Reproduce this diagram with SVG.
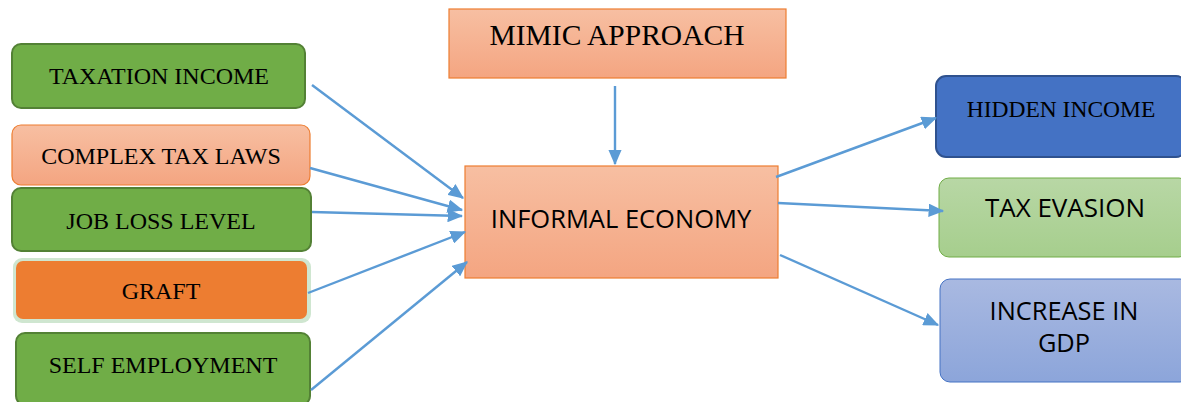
<svg xmlns="http://www.w3.org/2000/svg" width="1181" height="402" viewBox="0 0 1181 402">
<style>
.serif{font-family:"Liberation Serif","Times New Roman",serif;fill:#000;text-anchor:middle}
.sans{font-family:"Open Sans","Noto Sans","Liberation Sans",sans-serif;fill:#000;text-anchor:middle}
.green{fill:#70AD47;stroke:#538135;stroke-width:2}
.salmon{fill:url(#gSalmon);stroke:#ED7D31;stroke-width:1.2}
.conn{stroke:#5B9BD5;stroke-width:2.4;fill:none;marker-end:url(#arr)}
</style>
<defs>
<linearGradient id="gSalmon" x1="0" y1="0" x2="0" y2="1"><stop offset="0" stop-color="#F7BFA2"/><stop offset="1" stop-color="#F4A581"/></linearGradient>
<linearGradient id="gGreen" x1="0" y1="0" x2="0" y2="1"><stop offset="0" stop-color="#B8D7A5"/><stop offset="1" stop-color="#A6CE8D"/></linearGradient>
<linearGradient id="gBlue" x1="0" y1="0" x2="0" y2="1"><stop offset="0" stop-color="#A9B9E1"/><stop offset="1" stop-color="#8CA5DA"/></linearGradient>
<marker id="arr" markerWidth="6.5" markerHeight="5.6" refX="6" refY="2.8" orient="auto" markerUnits="strokeWidth"><path d="M0,0 L6.5,2.8 L0,5.6 Z" fill="#5B9BD5"/></marker>
</defs>
<g id="taxation-income"><rect class="green" x="12" y="44" width="293" height="64" rx="9"/><text class="serif" x="159" y="84" font-size="24">TAXATION INCOME</text></g>
<g id="complex-tax-laws"><rect class="salmon" x="12" y="125" width="298" height="60" rx="9"/><text class="serif" x="161" y="164" font-size="24">COMPLEX TAX LAWS</text></g>
<g id="job-loss-level"><rect class="green" x="12" y="188" width="299" height="63" rx="9"/><text class="serif" x="161" y="229" font-size="24">JOB LOSS LEVEL</text></g>
<g id="graft"><rect x="13" y="258" width="298" height="65" rx="9" fill="#CFE6D0"/><rect x="16" y="261" width="291" height="58" rx="7" fill="#ED7D31"/><text class="serif" x="161" y="299" font-size="24">GRAFT</text></g>
<g id="self-employment"><rect class="green" x="16" y="333" width="294" height="72" rx="9"/><text class="serif" x="163" y="373" font-size="24">SELF EMPLOYMENT</text></g>
<g id="mimic-approach"><rect class="salmon" x="449" y="9" width="337" height="69"/><text class="serif" x="617" y="45" font-size="29.5">MIMIC APPROACH</text></g>
<g id="informal-economy"><rect class="salmon" x="465" y="166" width="313" height="112"/><text class="sans" x="621" y="228" font-size="25.5">INFORMAL ECONOMY</text></g>
<g id="hidden-income"><rect x="936" y="76" width="250" height="81" rx="10" fill="#4472C4" stroke="#2F528F" stroke-width="2"/><text class="serif" x="1061" y="117" font-size="23.5">HIDDEN INCOME</text></g>
<g id="tax-evasion"><rect x="939" y="178" width="250" height="79" rx="10" fill="url(#gGreen)" stroke="#70AD47" stroke-width="1"/><text class="sans" x="1065" y="217" font-size="26">TAX EVASION</text></g>
<g id="increase-in-gdp"><rect x="940" y="279" width="250" height="103" rx="10" fill="url(#gBlue)" stroke="#4472C4" stroke-width="1"/><text class="sans" x="1064" y="320" font-size="25.4">INCREASE IN</text><text class="sans" x="1064" y="352" font-size="25.4">GDP</text></g>
<g id="connectors">
<line class="conn" x1="312" y1="85" x2="463" y2="198"/>
<line class="conn" x1="310" y1="168" x2="462" y2="210"/>
<line class="conn" x1="312" y1="212" x2="462" y2="216"/>
<line class="conn" x1="308" y1="293" x2="465" y2="232"/>
<line class="conn" x1="311" y1="390" x2="467" y2="262"/>
<line class="conn" x1="615" y1="86" x2="615" y2="164"/>
<line class="conn" x1="776" y1="177" x2="936" y2="118"/>
<line class="conn" x1="778" y1="203" x2="943" y2="211"/>
<line class="conn" x1="780" y1="255" x2="938" y2="325"/>
</g>
</svg>
